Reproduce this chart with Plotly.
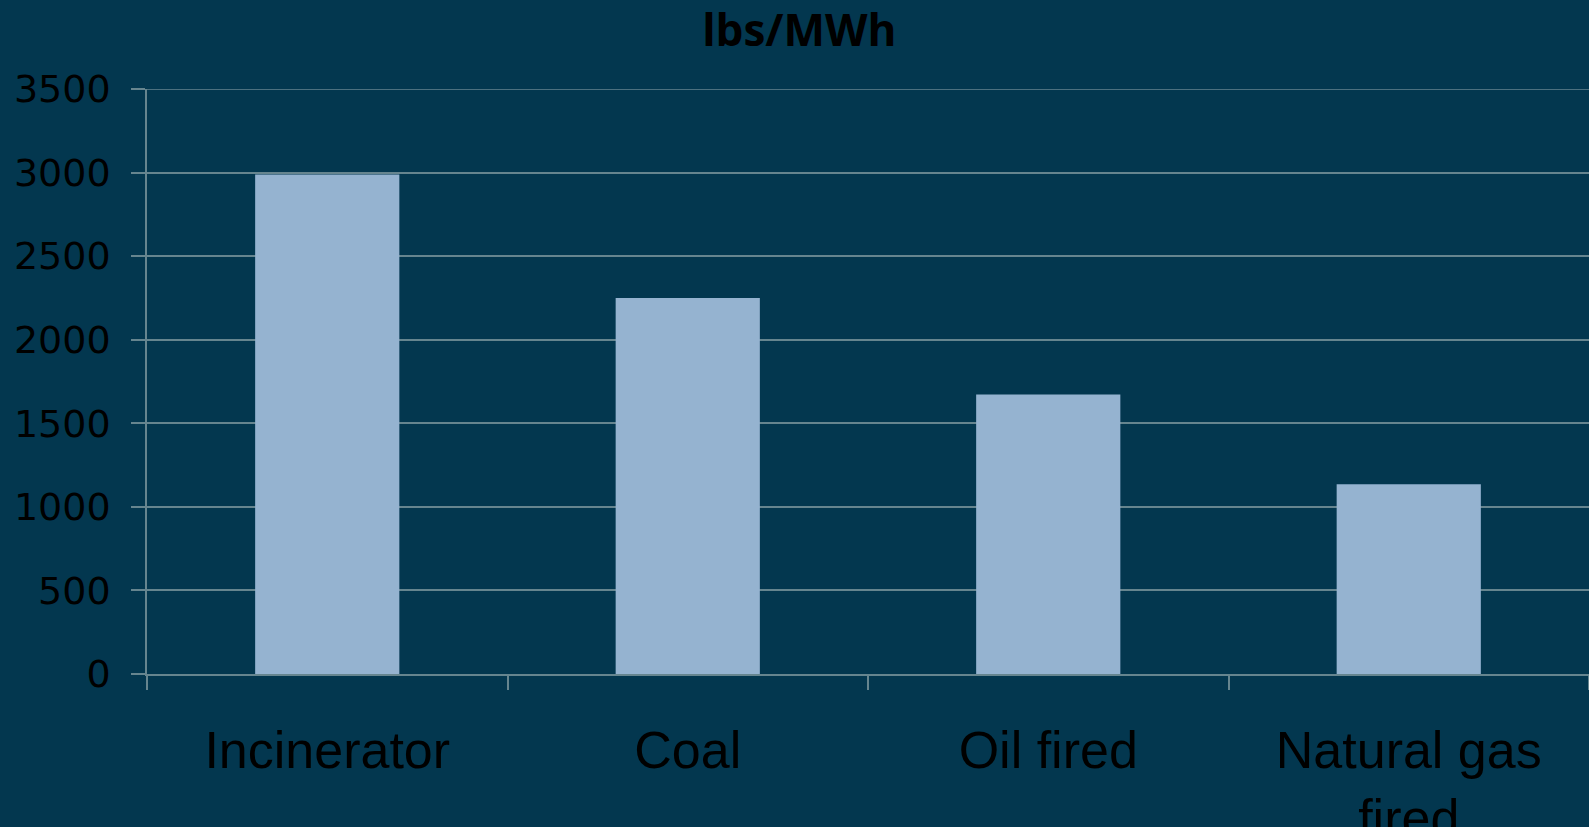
import plotly.graph_objects as go

# CO2 emission rates by generation source
sources = ["Incinerator", "Coal", "Oil fired", "Natural gas<br>fired"]
lbs_per_mwh = [2988, 2249, 1672, 1135]
y_ticks = [0, 500, 1000, 1500, 2000, 2500, 3000, 3500]
y_max = 3500

BG = "#03374f"
BAR = "#95b3d0"
GRID = "#66858f"

fig = go.Figure(
    go.Bar(
        x=sources,
        y=lbs_per_mwh,
        marker=dict(color=BAR, line=dict(width=0)),
        width=0.4,
    )
)

fig.update_layout(
    width=1589,
    height=827,
    paper_bgcolor=BG,
    plot_bgcolor=BG,
    margin=dict(l=147, r=0, t=89, b=153, autoexpand=False),
    showlegend=False,
    title=dict(
        text="<b>lbs/MWh</b>",
        x=0.503,
        xref="container",
        xanchor="center",
        y=0.963,
        yref="container",
        yanchor="middle",
        font=dict(family="Open Sans", size=44, color="#000000"),
    ),
)

# top gridline sits on the plot edge, so draw it explicitly
fig.add_shape(
    type="line", xref="paper", yref="y",
    x0=0, x1=1, y0=y_max, y1=y_max,
    line=dict(color=GRID, width=1.5),
    layer="below",
)

fig.update_xaxes(
    automargin=False,
    showline=True,
    linecolor=GRID,
    linewidth=1.5,
    ticks="outside",
    tickson="boundaries",
    ticklen=14,
    tickcolor=GRID,
    tickwidth=1.5,
    ticklabelstandoff=30,
    tickfont=dict(family="Liberation Sans", size=52, color="#000000"),
    showgrid=False,
)

fig.update_yaxes(
    automargin=False,
    range=[0, y_max],
    tickvals=y_ticks,
    showline=True,
    linecolor=GRID,
    linewidth=1.5,
    ticks="outside",
    ticklen=14,
    tickcolor=GRID,
    tickwidth=1.5,
    showgrid=True,
    gridcolor=GRID,
    gridwidth=1.5,
    zeroline=False,
    ticklabelstandoff=13,
    tickfont=dict(family="DejaVu Sans", size=38, color="#000000"),
)

fig.write_html("out.html")
